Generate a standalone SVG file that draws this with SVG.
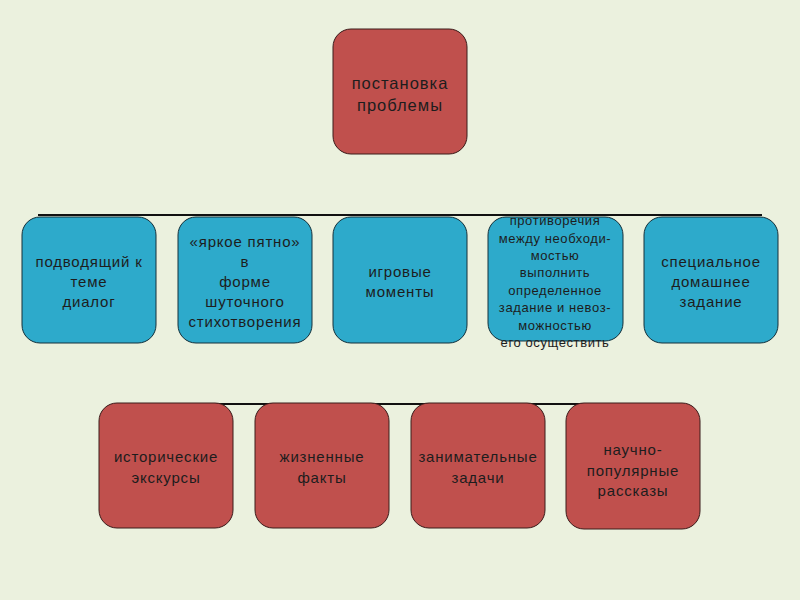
<svg xmlns="http://www.w3.org/2000/svg" width="800" height="600" viewBox="0 0 800 600">
<defs>
<style>
.bg{fill:#EBF1DE}
.red{fill:#C0504D;stroke:#3a1c1b;stroke-width:1}
.blue{fill:#2DAACB;stroke:#14303a;stroke-width:1}
.t{font-family:"Liberation Sans",Arial,sans-serif;font-size:15px;letter-spacing:0.8px;fill:#1d1d1d;text-anchor:middle}
.ts{font-family:"Liberation Sans",Arial,sans-serif;font-size:13px;letter-spacing:0.6px;fill:#1d1d1d;text-anchor:middle}
.tl{font-family:"Liberation Sans",Arial,sans-serif;font-size:16.5px;letter-spacing:1px;fill:#1d1d1d;text-anchor:middle}
.line{stroke:#111;stroke-width:2;fill:none}
</style>
</defs>
<rect class="bg" x="0" y="0" width="800" height="600"/>
<g id="connectors">
<line class="line" x1="38" y1="215" x2="762" y2="215"/>
<line class="line" x1="150" y1="404" x2="650" y2="404"/>
</g>
<g id="n0">
<rect class="red" x="333" y="29" width="134" height="125" rx="18"/>
<text class="tl" x="400" y="89">постановка</text>
<text class="tl" x="400" y="111">проблемы</text>
</g>
<g id="n1">
<rect class="blue" x="22" y="217" width="134" height="126" rx="18"/>
<text class="t" x="89" y="267">подводящий к</text>
<text class="t" x="89" y="287">теме</text>
<text class="t" x="89" y="307">диалог</text>
</g>
<g id="n2">
<rect class="blue" x="178" y="217" width="134" height="126" rx="18"/>
<text class="t" x="245" y="247">«яркое пятно»</text>
<text class="t" x="245" y="267">в</text>
<text class="t" x="245" y="287">форме</text>
<text class="t" x="245" y="307">шуточного</text>
<text class="t" x="245" y="327">стихотворения</text>
</g>
<g id="n3">
<rect class="blue" x="333" y="217" width="134" height="126" rx="18"/>
<text class="t" x="400" y="277">игровые</text>
<text class="t" x="400" y="297">моменты</text>
</g>
<g id="n4">
<rect class="blue" x="488" y="217" width="135" height="124" rx="18"/>
<text class="ts" x="555" y="225">противоречия</text>
<text class="ts" x="555" y="243">между необходи-</text>
<text class="ts" x="555" y="260">мостью</text>
<text class="ts" x="555" y="277">выполнить</text>
<text class="ts" x="555" y="295">определенное</text>
<text class="ts" x="555" y="312">задание и невоз-</text>
<text class="ts" x="555" y="330">можностью</text>
<text class="ts" x="555" y="347">его осуществить</text>
</g>
<g id="n5">
<rect class="blue" x="644" y="217" width="134" height="126" rx="18"/>
<text class="t" x="711" y="267">специальное</text>
<text class="t" x="711" y="287">домашнее</text>
<text class="t" x="711" y="307">задание</text>
</g>
<g id="n6">
<rect class="red" x="99" y="403" width="134" height="125" rx="18"/>
<text class="t" x="166" y="462">исторические</text>
<text class="t" x="166" y="483">экскурсы</text>
</g>
<g id="n7">
<rect class="red" x="255" y="403" width="134" height="125" rx="18"/>
<text class="t" x="322" y="462">жизненные</text>
<text class="t" x="322" y="483">факты</text>
</g>
<g id="n8">
<rect class="red" x="411" y="403" width="134" height="125" rx="18"/>
<text class="t" x="478" y="462">занимательные</text>
<text class="t" x="478" y="483">задачи</text>
</g>
<g id="n9">
<rect class="red" x="566" y="403" width="134" height="126" rx="18"/>
<text class="t" x="633" y="455">научно-</text>
<text class="t" x="633" y="476">популярные</text>
<text class="t" x="633" y="496">рассказы</text>
</g>
</svg>
